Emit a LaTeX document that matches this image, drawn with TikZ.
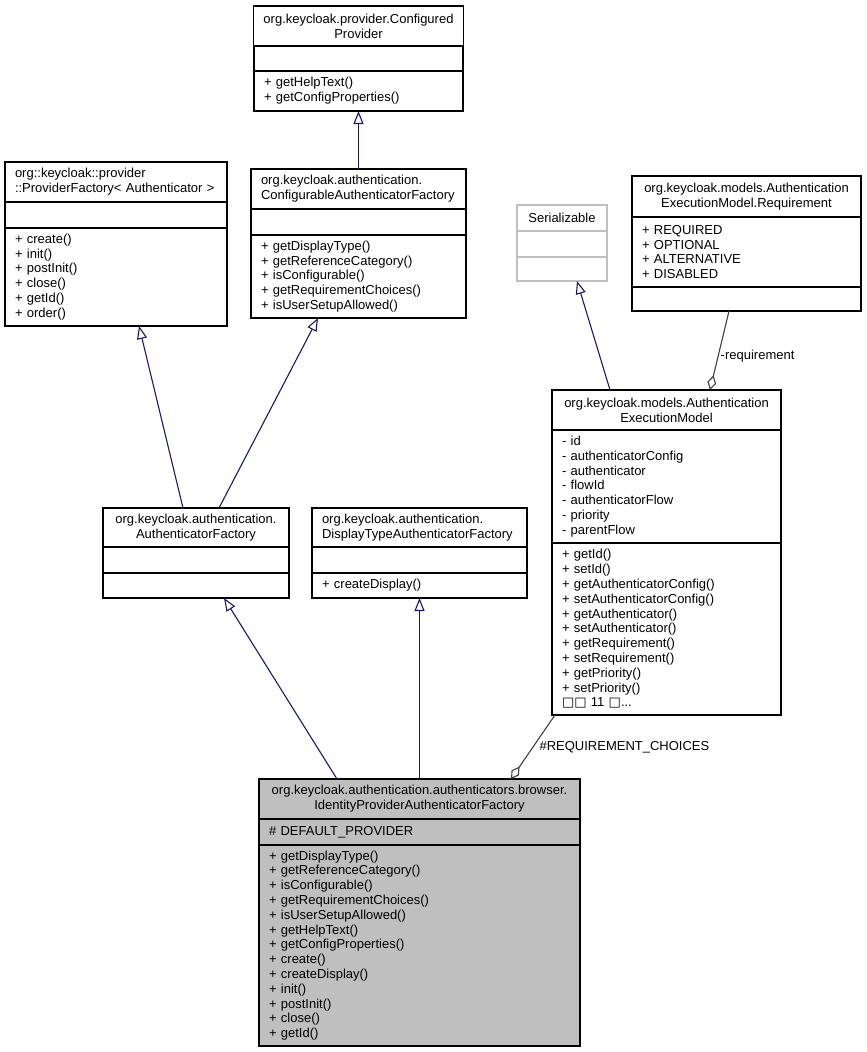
\documentclass[tikz,border=0pt]{standalone}
\usepackage{fontspec}
\setmainfont{Liberation Sans}
\newfontfamily\symfont{DejaVu Sans}
\usetikzlibrary{positioning,arrows.meta}
\newcommand\umlfont{\fontsize{13}{14.8}\selectfont}
\definecolor{edgeblue}{HTML}{191970}
\definecolor{edgegray}{HTML}{404040}
\definecolor{boxgray}{HTML}{BFBFBF}
\begin{document}
\begin{tikzpicture}[x=1pt, y=-1pt,
    cls/.style={draw, line width=1.1pt, inner xsep=10pt, inner ysep=0pt, outer sep=0pt, font=\umlfont},
    title/.style={cls, align=center},
    list/.style={cls, align=left},
    inherit/.style={edgeblue, line width=1.1pt, -{Triangle[open, length=13pt, width=10pt]}},
    aggr/.style={edgegray, line width=1.1pt, {Diamond[open, length=15pt, width=9pt]}-}]
 \useasboundingbox (0,0) rectangle (867,1052);

    % Classes
 \node[title, minimum width=209, minimum height=40, anchor=north] (cp) at (358.5,6)
    {org.keycloak.provider.Configured\\Provider};
 \node[list, text width=189, minimum height=25, below=0pt of cp] (cpattr) {};
 \node[list, text width=189, minimum height=40, below=0pt of cpattr] (cpops)
    {+ getHelpText()\\+ getConfigProperties()};

 \node[list, text width=202, minimum height=40, anchor=north] (pf) at (116,162)
    {org::keycloak::provider\\::ProviderFactory< Authenticator >};
 \node[list, text width=202, minimum height=26, below=0pt of pf] (pfattr) {};
 \node[list, text width=202, minimum height=98, below=0pt of pfattr] (pfops)
    {+ create()\\+ init()\\+ postInit()\\+ close()\\+ getId()\\+ order()};

 \node[list, text width=195, minimum height=40, anchor=north] (caf) at (358.5,169)
    {org.keycloak.authentication.\\ConfigurableAuthenticatorFactory};
 \node[list, text width=195, minimum height=26, below=0pt of caf] (cafattr) {};
 \node[list, text width=195, minimum height=83, below=0pt of cafattr] (cafops)
    {+ getDisplayType()\\+ getReferenceCategory()\\+ isConfigurable()\\+ getRequirementChoices()\\+ isUserSetupAllowed()};

 \node[title, draw=boxgray, minimum width=90, minimum height=26, anchor=north] (ser) at (562,205) {Serializable};
 \node[list, draw=boxgray, text width=70, minimum height=26, below=0pt of ser] (serattr) {};
 \node[list, draw=boxgray, text width=70, minimum height=24, below=0pt of serattr] (serops) {};

 \node[title, minimum width=229, minimum height=41, anchor=north] (req) at (746.5,176)
    {org.keycloak.models.Authentication\\ExecutionModel.Requirement};
 \node[list, text width=209, minimum height=70, below=0pt of req] (reqattr)
    {+ REQUIRED\\+ OPTIONAL\\+ ALTERNATIVE\\+ DISABLED};
 \node[list, text width=209, minimum height=24, below=0pt of reqattr] (reqops) {};

 \node[title, minimum width=229, minimum height=40, anchor=north] (em) at (666.5,390)
    {org.keycloak.models.Authentication\\ExecutionModel};
 \node[list, text width=209, minimum height=113, below=0pt of em] (emattr)
    {- id\\- authenticatorConfig\\- authenticator\\- flowId\\- authenticatorFlow\\- priority\\- parentFlow};
 \node[list, text width=209, minimum height=172, below=0pt of emattr] (emops)
    {+ getId()\\+ setId()\\+ getAuthenticatorConfig()\\+ setAuthenticatorConfig()\\+ getAuthenticator()\\+ setAuthenticator()\\+ getRequirement()\\+ setRequirement()\\+ getPriority()\\+ setPriority()\\{\symfont□□} 11 {\symfont□}...};

 \node[title, minimum width=186, minimum height=39, anchor=north] (af) at (196,508)
    {org.keycloak.authentication.\\AuthenticatorFactory};
 \node[list, text width=166, minimum height=26, below=0pt of af] (afattr) {};
 \node[list, text width=166, minimum height=25, below=0pt of afattr] (afops) {};

 \node[list, text width=195, minimum height=39, anchor=north] (dtaf) at (419.5,508)
    {org.keycloak.authentication.\\DisplayTypeAuthenticatorFactory};
 \node[list, text width=195, minimum height=26, below=0pt of dtaf] (dtafattr) {};
 \node[list, text width=195, minimum height=25, below=0pt of dtafattr] (dtafops) {+ createDisplay()};

 \node[title, fill=boxgray, minimum width=321, minimum height=40, anchor=north] (ipaf) at (419.5,779)
    {org.keycloak.authentication.authenticators.browser.\\IdentityProviderAuthenticatorFactory};
 \node[list, fill=boxgray, text width=301, minimum height=26, below=0pt of ipaf] (ipafattr) {\# DEFAULT\_PROVIDER};
 \node[list, fill=boxgray, text width=301, minimum height=201, below=0pt of ipafattr] (ipafops)
    {+ getDisplayType()\\+ getReferenceCategory()\\+ isConfigurable()\\+ getRequirementChoices()\\+ isUserSetupAllowed()\\+ getHelpText()\\+ getConfigProperties()\\+ create()\\+ createDisplay()\\+ init()\\+ postInit()\\+ close()\\+ getId()};

    % Relations
 \draw[inherit] (caf.north) -- (cpops.south);
 \draw[inherit] ([xshift=80pt]af.north west) -- ([xshift=134pt]pfops.south west);
 \draw[inherit] ([xshift=116pt]af.north west) -- ([xshift=67pt]cafops.south west);
 \draw[inherit] ([xshift=78pt]ipaf.north west) -- ([xshift=121pt]afops.south west);
 \draw[inherit] (ipaf.north) -- (dtafops.south);
 \draw[inherit] ([xshift=58pt]em.north west) -- ([xshift=60pt]serops.south west);
 \draw[aggr] ([xshift=158pt]em.north west) -- node[pos=0.43, anchor=west, inner xsep=2pt, font=\umlfont, text=black] (reqlabel) {-requirement} ([xshift=97pt]reqops.south west);
 \draw[aggr] ([xshift=252pt]ipaf.north west) -- node[pos=0.5, anchor=west, inner xsep=6pt, font=\umlfont, text=black] (choiceslabel) {\#REQUIREMENT\_CHOICES} ([xshift=3pt]emops.south west);
\end{tikzpicture}
\end{document}
